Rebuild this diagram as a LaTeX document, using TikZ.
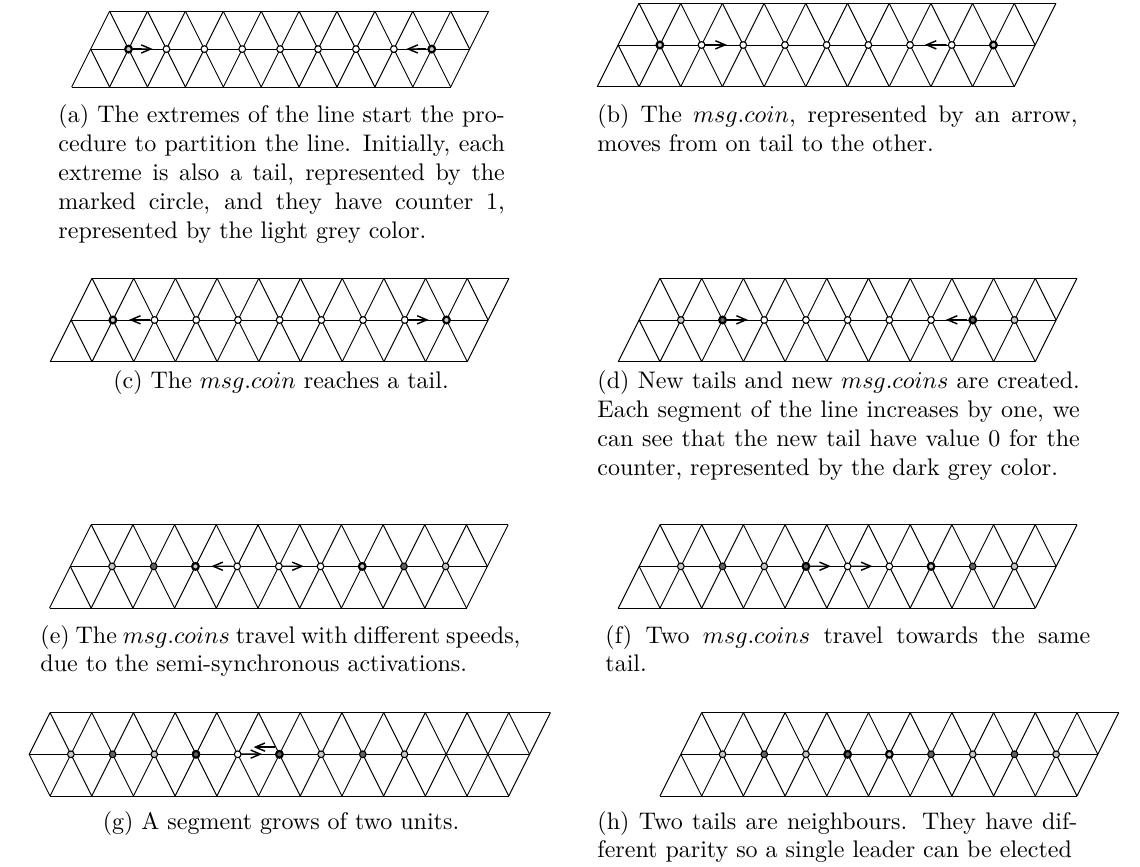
\documentclass[tikz,border=0pt]{standalone}
\usepackage{amsmath,amssymb}
\usepackage{xcolor}
\usepackage{tikz}
\usetikzlibrary{arrows.meta,positioning,calc}
\tikzset{
  grd/.style={line width=0.4pt},
  nd/.style={circle, draw, line width=0.45pt, fill=white, inner sep=0pt, minimum size=2.8pt},
  lt/.style={nd, fill=black!22},
  dk/.style={nd, fill=black!62},
  tl/.style={nd, fill=black!22, line width=0.9pt},
  td/.style={nd, fill=black!62, line width=0.9pt},
  coin/.style={-{Straight Barb[length=4pt,width=3.4pt]}, line width=0.6pt, shorten >=5pt},
  sub/.style={anchor=base west, inner sep=0pt, align=justify},
  subc/.style={anchor=base, inner sep=0pt},
}
% triangular strip with #1 cells, rows at y=0,1,2
\newcommand{\trigrid}[1]{%
  \pgfmathtruncatemacro\lastj{#1-1}
  \draw[grd] (1,0) -- (#1+1,0) (0.5,1) -- (#1+0.5,1) (0,2) -- (#1,2);
  \foreach \i in {0,...,#1} \draw[grd] (\i+1,0) -- (\i,2);
  \foreach \j in {1,...,\lastj} \draw[grd] (\j,0) -- (\j+1,2);
  \draw[grd] (0.5,1) -- (1,2) (#1,0) -- (#1+0.5,1);
}

\begin{document}
\begin{tikzpicture}[x=0.4167pt, y=-0.4167pt]
\useasboundingbox (0,0) rectangle (1140,867);

% (a)
\begin{scope}[shift={(71.7,11.2)}, scale=37.9]
\trigrid{10}
\node[tl] (a1) at (1.5,1) {};
\foreach \k in {2,...,8} \node[nd] (a\k) at (\k+0.5,1) {};
\node[tl] (a9) at (9.5,1) {};
\draw[coin, shorten >=4pt] (a1) -- (a2);
\draw[coin, shorten >=4pt] (a9) -- (a8);
\end{scope}
\node[sub, text width=186pt] (capa) at (58,123) {(a) The extremes of the line start the pro-\linebreak cedure to partition the line. Initially, each extreme is also a tail, represented by the marked circle, and they have counter 1, represented by the light grey color.};

% (b)
\begin{scope}[shift={(597.3,3.3)}, scale=41.7]
\trigrid{10}
\node[tl] (b1) at (1.5,1) {};
\foreach \k in {2,...,8} \node[nd] (b\k) at (\k+0.5,1) {};
\node[tl] (b9) at (9.5,1) {};
\draw[coin] (b2) -- (b3);
\draw[coin] (b8) -- (b7);
\end{scope}
\node[sub, text width=200pt] (capb) at (597,123) {(b) The $msg.coin$, represented by an arrow,\linebreak moves from on tail to the other.};

% (c)
\begin{scope}[shift={(50.3,278.3)}, scale=41.7]
\trigrid{10}
\node[tl] (c1) at (1.5,1) {};
\foreach \k in {2,...,8} \node[nd] (c\k) at (\k+0.5,1) {};
\node[tl] (c9) at (9.5,1) {};
\draw[coin] (c2) -- (c1);
\draw[coin] (c8) -- (c9);
\end{scope}
\node[subc] (capc) at (281,389) {(c) The $msg.coin$ reaches a tail.};

% (d)
\begin{scope}[shift={(618.3,278.3)}, scale=41.7]
\trigrid{10}
\node[lt] (d1) at (1.5,1) {};
\node[td] (d2) at (2.5,1) {};
\foreach \k in {3,...,7} \node[nd] (d\k) at (\k+0.5,1) {};
\node[td] (d8) at (8.5,1) {};
\node[lt] (d9) at (9.5,1) {};
\draw[coin] (d2) -- (d3);
\draw[coin] (d8) -- (d7);
\end{scope}
\node[sub, text width=201pt] (capd) at (597,389) {(d) New tails and new $msg.coins$ are created.\linebreak Each segment of the line increases by one, we\linebreak can see that the new tail have value 0 for the\linebreak counter, represented by the dark grey color.};

% (e)
\begin{scope}[shift={(49.5,524.7)}, scale=41.7]
\trigrid{10}
\node[lt] (e1) at (1.5,1) {};
\node[dk] (e2) at (2.5,1) {};
\node[tl] (e3) at (3.5,1) {};
\foreach \k in {4,5,6} \node[nd] (e\k) at (\k+0.5,1) {};
\node[tl] (e7) at (7.5,1) {};
\node[dk] (e8) at (8.5,1) {};
\node[lt] (e9) at (9.5,1) {};
\draw[coin] (e4) -- (e3);
\draw[coin] (e5) -- (e6);
\end{scope}
\node[sub, text width=200pt] (cape) at (40,643) {(e) The $msg.coins$ travel with different speeds,\linebreak due to the semi-synchronous activations.};

% (f)
\begin{scope}[shift={(618.3,524.7)}, scale=41.7]
\trigrid{10}
\node[lt] (f1) at (1.5,1) {};
\node[dk] (f2) at (2.5,1) {};
\node[lt] (f3) at (3.5,1) {};
\node[td] (f4) at (4.5,1) {};
\node[nd] (f5) at (5.5,1) {};
\node[nd] (f6) at (6.5,1) {};
\node[tl] (f7) at (7.5,1) {};
\node[dk] (f8) at (8.5,1) {};
\node[lt] (f9) at (9.5,1) {};
\draw[coin] (f4) -- (f5);
\draw[coin] (f5) -- (f6);
\end{scope}
\node[sub, text width=202pt] (capf) at (605,643) {(f) Two $msg.coins$ travel towards the same\linebreak tail.};

% (g) wider strip, pointed on the left
\begin{scope}[shift={(29.2,712.6)}, scale=41.7]
\draw[grd] (0.5,0) -- (12.5,0) (0,1) -- (12,1) (0.5,2) -- (11.5,2);
\foreach \i in {1,...,12} \draw[grd] (\i+0.5,0) -- (\i-0.5,2);
\foreach \i in {0,...,10} \draw[grd] (\i+0.5,0) -- (\i+1.5,2);
\draw[grd] (0.5,0) -- (0,1) -- (0.5,2) (11.5,0) -- (12,1);
\node[lt] (g1) at (1,1) {};
\node[dk] (g2) at (2,1) {};
\node[lt] (g3) at (3,1) {};
\node[td] (g4) at (4,1) {};
\node[nd] (g5) at (5,1) {};
\node[td] (g6) at (6,1) {};
\node[lt] (g7) at (7,1) {};
\node[dk] (g8) at (8,1) {};
\node[lt] (g9) at (9,1) {};
\draw[coin] (g5) -- (g6);
\end{scope}
\draw[coin] ([yshift=3pt]g6.west) -- ([yshift=3pt]g5.east);
\node[subc] (capg) at (281,829) {(g) A segment grows of two units.};

% (h)
\begin{scope}[shift={(660,712.6)}, scale=41.7]
\trigrid{10}
\node[lt] (h1) at (1.5,1) {};
\node[dk] (h2) at (2.5,1) {};
\node[lt] (h3) at (3.5,1) {};
\node[td] (h4) at (4.5,1) {};
\node[tl] (h5) at (5.5,1) {};
\node[dk] (h6) at (6.5,1) {};
\node[lt] (h7) at (7.5,1) {};
\node[dk] (h8) at (8.5,1) {};
\node[lt] (h9) at (9.5,1) {};
\end{scope}
\node[sub, text width=200pt] (caph) at (597,829) {\parfillskip=0pt (h) Two tails are neighbours. They have dif-\linebreak ferent parity so a single leader can be elected};
\end{tikzpicture}
\end{document}
